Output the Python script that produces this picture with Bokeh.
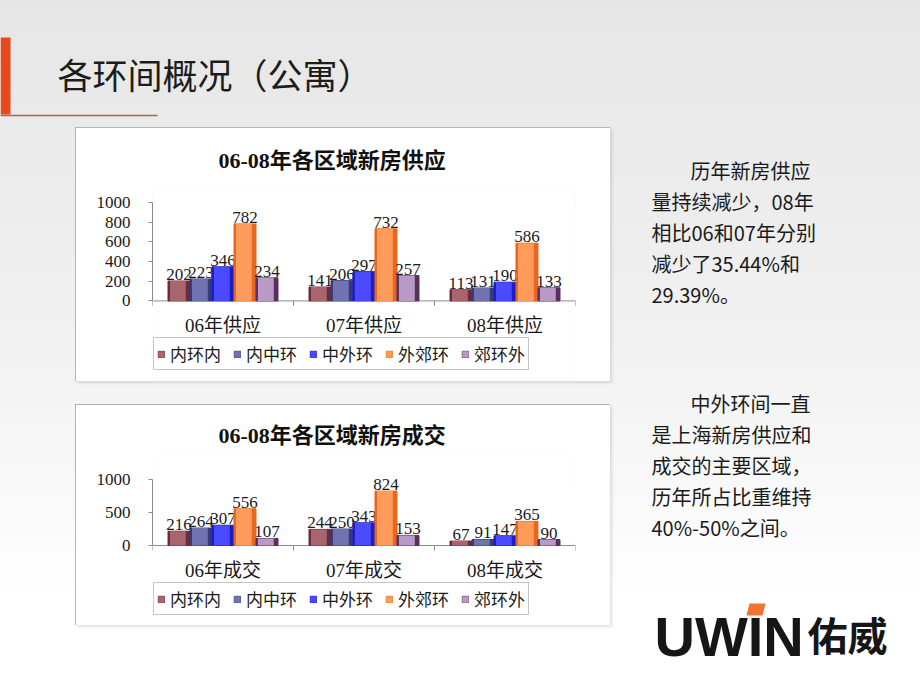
from bokeh.plotting import figure
from bokeh.models import (Range1d, LinearAxis, FixedTicker, Legend,
                          LegendItem, ColumnDataSource, Spacer, Title)
from bokeh.layouts import column, row
from bokeh.core.properties import value
from bokeh.embed import file_html
from bokeh.resources import INLINE

# ---------------- data ----------------
series = ["内环内", "内中环", "中外环", "外郊环", "郊环外"]

supply_title = "06-08年各区域新房供应"
supply_cats = ["06年供应", "07年供应", "08年供应"]
supply_inner = [202, 141, 113]
supply_innermid = [223, 206, 131]
supply_midouter = [346, 297, 190]
supply_outer = [782, 732, 586]
supply_suburb = [234, 257, 133]
supply_ticks = [0, 200, 400, 600, 800, 1000]

deal_title = "06-08年各区域新房成交"
deal_cats = ["06年成交", "07年成交", "08年成交"]
deal_inner = [216, 244, 67]
deal_innermid = [264, 250, 91]
deal_midouter = [307, 343, 147]
deal_outer = [556, 824, 365]
deal_suburb = [107, 153, 90]
deal_ticks = [0, 500, 1000]

page_title = "各环间概况（公寓）"
para1 = ["历年新房供应", "量持续减少，08年", "相比06和07年分别", "减少了35.44%和", "29.39%。"]
para2 = ["中外环间一直", "是上海新房供应和", "成交的主要区域，", "历年所占比重维持", "40%-50%之间。"]

# ---------------- style ----------------
EDGE = ["#6a2c38", "#363a78", "#1c1cc8", "#e8661e", "#58305e"]
MAIN = ["#a9656d", "#7072b2", "#4a4aff", "#ff9c5c", "#b99ac6"]
SERIF = "Liberation Serif, Noto Sans CJK SC"
SANS = "Noto Sans CJK SC"
TXT = "#1a1a1a"
AX = "#8a8a8a"
BW = 0.156


def make_chart(title, cats, vals, ticks, w, h, top, bottom, zero_px, full_px,
               standoff, legend_y):
    """zero_px: pixel distance of value 0 below the frame top;
    full_px: pixel length of the value axis from 0 to the last tick."""
    n = len(cats)
    frame_h = h - top - bottom
    upp = ticks[-1] / full_px                     # value units per pixel
    y_end = zero_px * upp
    y_start = -(frame_h - zero_px) * upp
    p = figure(width=w, height=h, x_range=Range1d(0, n), y_range=Range1d(y_start, y_end),
               x_axis_location=None, y_axis_location=None,
               toolbar_location=None, output_backend="svg",
               min_border=0, min_border_left=77, min_border_right=35,
               min_border_top=top, min_border_bottom=bottom,
               background_fill_color="white", border_fill_color="white",
               outline_line_color=None,
               styles={"outline": "2px solid #9c9c9c", "outline-offset": "-2px",
                       "box-shadow": "2px 2px 3px rgba(0,0,0,0.12)"})
    p.grid.visible = False
    p.title = Title(text=title, align="left", offset=66, standoff=standoff,
                    text_font=SERIF, text_font_size="22px", text_font_style="bold",
                    text_color="#111111")

    yaxis = LinearAxis(ticker=FixedTicker(ticks=ticks), bounds=(0, ticks[-1]),
                       axis_line_color=AX, major_tick_in=0, major_tick_out=4,
                       major_tick_line_color=AX, minor_tick_line_color=None,
                       major_label_text_font=SERIF, major_label_text_font_size="17px",
                       major_label_text_color=TXT, major_label_standoff=18)
    p.add_layout(yaxis, "left")

    # category axis: base line, boundary ticks, labels
    bounds = list(range(n + 1))
    p.segment(x0=[0], y0=[0], x1=[n], y1=[0], line_color=AX, line_width=1)
    p.segment(x0=bounds, y0=[0] * len(bounds), x1=bounds, y1=[-5 * upp] * len(bounds),
              line_color=AX, line_width=1)
    centers = [k + 0.5 for k in range(n)]
    p.text(x=centers, y=[0] * n, text=cats, text_align="center", text_baseline="middle",
           y_offset=25, text_font=value(SERIF), text_font_size="19px", text_color=TXT)

    items = []
    for i, (name, v) in enumerate(zip(series, vals)):
        off = (i - 2) * BW
        xs = [k + 0.5 + off for k in range(n)]
        src = ColumnDataSource(dict(x=xs, xi=[x - 0.008 for x in xs], y=v,
                                    lab=[str(t) for t in v]))
        outer = p.vbar(x="x", top="y", width=BW, source=src,
                       fill_color=EDGE[i], line_color=EDGE[i])
        inner = p.vbar(x="xi", top="y", width=BW * 0.72, source=src,
                       fill_color=MAIN[i], line_color=None)
        p.text(x="x", y="y", text="lab", source=src,
               text_align="center", text_baseline="bottom", y_offset=-1,
               text_font=value(SERIF), text_font_size="17px", text_color=TXT)
        items.append(LegendItem(label=name, renderers=[outer, inner]))

    legend = Legend(items=items, orientation="horizontal", location=(1, legend_y),
                    border_line_color="#8c8c8c", border_line_width=1,
                    background_fill_color="white", background_fill_alpha=1,
                    label_text_font=SERIF, label_text_font_size="17px",
                    label_text_color=TXT, glyph_width=8, glyph_height=8,
                    label_height=17, label_text_line_height=1.0,
                    label_standoff=5, spacing=12, padding=3, margin=0)
    p.add_layout(legend)
    return p


supply_vals = [supply_inner, supply_innermid, supply_midouter, supply_outer, supply_suburb]
deal_vals = [deal_inner, deal_innermid, deal_midouter, deal_outer, deal_suburb]

chart1 = make_chart(supply_title, supply_cats, supply_vals, supply_ticks,
                    535, 254, 63, 4, 110, 99, 37, 7)
chart2 = make_chart(deal_title, deal_cats, deal_vals, deal_ticks,
                    535, 221, 48, 4, 93, 66, 10, 6)

# ---------------- header ----------------
header = figure(width=920, height=127, x_range=Range1d(0, 920), y_range=Range1d(127, 0),
                x_axis_location=None, y_axis_location=None, toolbar_location=None,
                output_backend="svg", min_border=0, outline_line_color=None,
                background_fill_color=None, border_fill_color=None)
header.grid.visible = False
header.quad(left=0, right=10, top=37, bottom=114, fill_color="#e8491a", line_color=None)
header.segment(x0=0, y0=115, x1=157, y1=115, line_color="#b9603c", line_width=1.5)
header.text(x=[57], y=[73], text=[page_title], text_baseline="middle",
            text_font=value(SANS), text_font_size="35px", text_color="#1c1c1c")

# ---------------- right panel ----------------
PH = 563
side = figure(width=310, height=PH, x_range=Range1d(0, 310), y_range=Range1d(PH, 0),
              x_axis_location=None, y_axis_location=None, toolbar_location=None,
              output_backend="svg", min_border=0, outline_line_color=None,
              background_fill_color=None, border_fill_color=None)
side.grid.visible = False
LINE_H = 31
for start_y, para in ((43, para1), (276, para2)):
    xs = [80 if k == 0 else 41 for k in range(len(para))]
    ys = [start_y + k * LINE_H for k in range(len(para))]
    side.text(x=xs, y=ys, text=para, text_baseline="middle",
              text_font=value(SANS), text_font_size="20px", text_color=TXT)

# logo
side.text(x=[44], y=[509], text=["UWIN"], text_baseline="middle",
          text_font=value("Liberation Sans"), text_font_style="bold",
          text_font_size="56px", text_color="#161616")
side.patch(x=[139, 155, 152, 136], y=[476, 476, 488, 488], fill_color="#f07430",
           line_color=None)
side.text(x=[197], y=[506], text=["佑威"], text_baseline="middle",
          text_font=value(SANS), text_font_style="bold",
          text_font_size="40px", text_color="#161616")

left_col = column(chart1, Spacer(width=535, height=23), chart2, Spacer(width=535, height=65))
body = row(Spacer(width=75, height=PH), left_col, side)
root = column(header, body,
              styles={"background": "linear-gradient(to bottom, #e6e6e6 0%, #f1f1f1 50%, #ffffff 88%)"})

open("out.html", "w").write(file_html(root, INLINE))
